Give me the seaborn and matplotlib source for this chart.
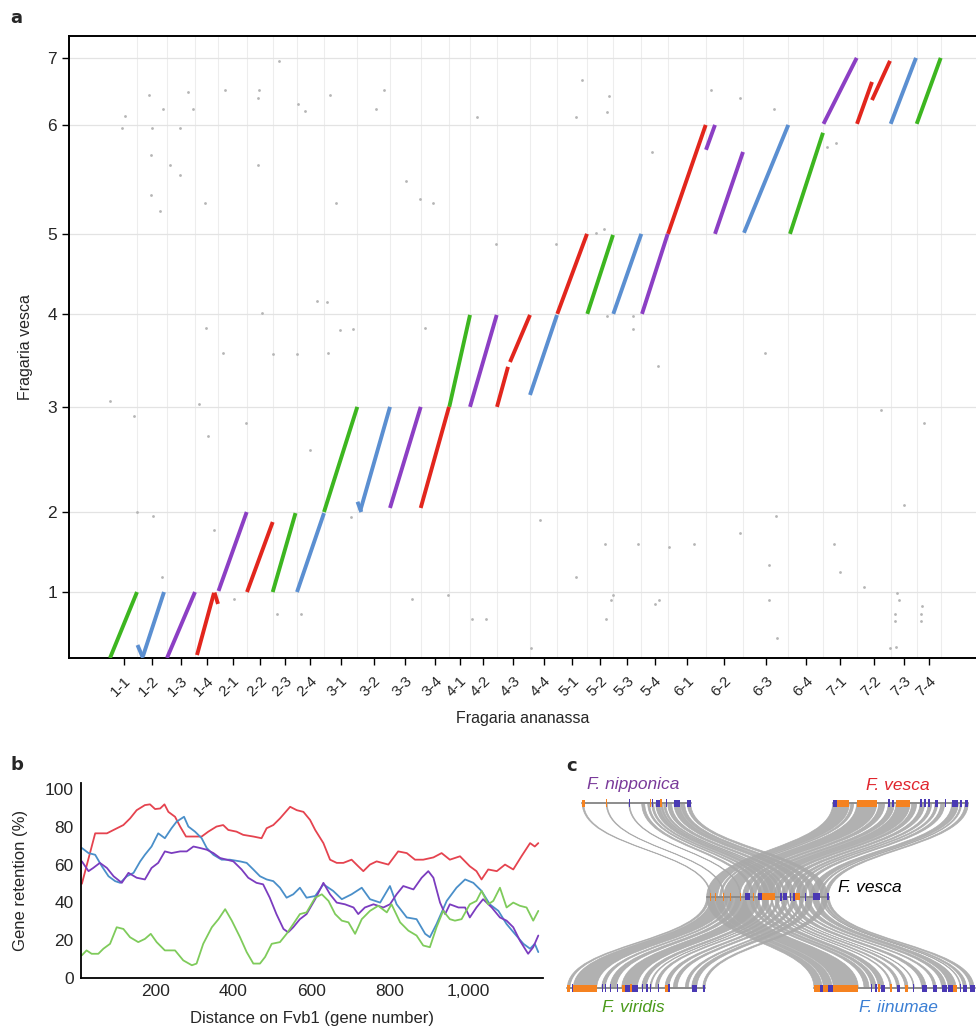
import numpy as np
import pandas as pd
import matplotlib
matplotlib.use("Agg")
import matplotlib.pyplot as plt
import seaborn as sns
from matplotlib.path import Path
from matplotlib.patches import PathPatch, Rectangle

sns.set_theme(style="white")
plt.rcParams["font.family"] = ["Liberation Sans", "DejaVu Sans"]

# ------------------------------------------------------------------ panel a data
vesca_chroms = ["1", "2", "3", "4", "5", "6", "7"]
vesca_len = [24.4, 29.6, 38.9, 34.4, 29.6, 40.3, 24.8]          # Mb

ananassa_chroms = ["1-1", "1-2", "1-3", "1-4", "2-1", "2-2", "2-3", "2-4",
                   "3-1", "3-2", "3-3", "3-4", "4-1", "4-2", "4-3", "4-4",
                   "5-1", "5-2", "5-3", "5-4", "6-1", "6-2", "6-3", "6-4",
                   "7-1", "7-2", "7-3", "7-4"]
ananassa_len = [27.3, 29.4, 28.3, 23.3, 28.4, 26.0, 24.0, 27.3,
                33.3, 32.7, 30.7, 28.6, 20.7, 26.7, 33.3, 27.3,
                30.0, 26.0, 28.0, 26.4, 38.0, 37.6, 45.0, 35.0,
                33.4, 34.0, 26.0, 24.0]
ananassa_progenitor = ["F. viridis", "F. iinumae", "F. nipponica", "F. vesca",
                       "F. nipponica", "F. vesca", "F. viridis", "F. iinumae",
                       "F. viridis", "F. iinumae", "F. nipponica", "F. vesca",
                       "F. viridis", "F. nipponica", "F. vesca", "F. iinumae",
                       "F. vesca", "F. viridis", "F. iinumae", "F. nipponica",
                       "F. vesca", "F. nipponica", "F. iinumae", "F. viridis",
                       "F. nipponica", "F. vesca", "F. iinumae", "F. viridis"]

# syntenic blocks: ananassa chrom, start/end on ananassa chrom (Mb), start/end on vesca chrom (Mb)
block_chrom = ["1-1", "1-2", "1-2", "1-3", "1-4", "1-4", "2-1", "2-2", "2-3", "2-4",
               "3-1", "3-2", "3-2", "3-3", "3-4", "4-1", "4-2", "4-3", "4-3", "4-4",
               "5-1", "5-2", "5-3", "5-4", "6-1", "6-2", "6-2", "6-3", "6-4",
               "7-1", "7-2", "7-2", "7-3", "7-4"]
block_a_start = [0.0, 0.2, 5.7, 0.3, 2.0, 19.5, 0.2, 0.3, 0.0, 0.3,
                 0.0, 0.2, 3.0, 0.0, 0.0, 0.0, 0.0, 0.3, 13.3, 0.0,
                 0.0, 0.0, 0.0, 0.7, 0.3, 9.3, 0.3, 0.7, 1.7,
                 0.2, 0.3, 15.3, 0.0, 0.0]
block_a_end = [27.0, 5.7, 26.7, 28.3, 19.0, 23.0, 28.4, 26.0, 22.8, 27.3,
               33.3, 4.0, 32.7, 30.7, 28.3, 20.7, 26.7, 11.3, 33.3, 27.0,
               29.7, 25.7, 28.0, 26.4, 38.0, 37.3, 9.3, 45.0, 34.7,
               33.4, 15.3, 33.3, 25.3, 24.0]
block_v_start = [0.0, 4.8, 0.7, 0.0, 1.1, 24.2, 0.4, 0.0, 0.0, 0.0,
                 0.0, 3.8, 0.5, 1.5, 1.5, 0.0, 0.0, 0.0, 16.6, 4.4,
                 0.0, 0.0, 0.0, 0.0, 0.0, 0.0, 31.1, 0.4, 0.0,
                 0.4, 0.4, 9.2, 0.4, 0.4]
block_v_end = [24.4, 0.0, 24.4, 24.4, 24.1, 20.0, 29.6, 25.9, 29.2, 29.2,
               38.9, 0.0, 38.9, 38.9, 38.9, 34.0, 34.0, 14.8, 34.0, 34.0,
               29.6, 29.2, 29.6, 29.6, 40.3, 30.3, 40.3, 40.3, 37.4,
               24.8, 15.9, 23.7, 24.8, 24.8]

# non-syntenic background hits (cumulative Mb)
bg_x = [12.3, 15.0, 39.0, 41.7, 41.0, 41.0, 53.0, 50.3, 60.0, 70.3, 70.0, 77.7, 83.0,
        94.7, 95.7, 114.7, 149.0, 148.3, 147.7, 152.3, 168.7, 188.0, 195.3, 206.7,
        216.7, 219.7, 226.0, 229.7, 242.7, 266.0, 274.0, 296.3, 310.0, 322.7, 314.7,
        366.7, 386.0, 0.0, 24.0, 26.7, 43.3, 51.7, 89.0, 97.7, 103.7, 113.3, 124.3,
        136.3, 162.7, 167.3, 186.7, 191.0, 200.0, 218.3, 240.7, 302.0, 338.3, 362.0,
        376.0, 497.3, 523.0, 523.0, 548.3, 655.0, 771.0, 813.7, 794.3, 666.3, 629.7,
        430.0, 495.0, 528.3, 559.3, 583.7, 724.3, 659.3, 729.7, 465.7, 753.7, 503.3,
        501.0, 549.3, 545.3, 659.3, 786.7, 789.0, 496.3, 785.3, 785.3, 811.3, 811.3,
        812.0, 666.7, 420.7, 780.0, 786.0, 471.7, 465.7, 499.3, 497.0, 541.7, 601.0,
        629.7, 663.7, 716.7, 726.0, 446.3, 486.3, 494.0]
bg_y = [196.1, 200.4, 208.4, 196.1, 186.2, 171.4, 203.2, 165.3, 182.5, 196.1, 178.5,
        209.3, 203.2, 168.4, 122.1, 210.0, 210.0, 207.1, 182.5, 127.5, 220.8, 205.1,
        202.5, 132.2, 131.6, 208.4, 168.4, 121.5, 121.7, 203.1, 210.0, 176.4, 169.9,
        168.4, 122.1, 200.1, 153.1, 95.2, 89.7, 53.9, 52.7, 30.1, 93.9, 82.1, 47.2,
        112.7, 21.7, 87.1, 112.5, 16.2, 112.5, 16.2, 76.9, 112.7, 52.3, 21.7, 23.2,
        14.3, 14.3, 126.7, 126.7, 121.7, 108.2, 112.7, 91.6, 87.1, 56.6, 52.4, 46.4,
        51.2, 42.3, 42.3, 41.1, 42.3, 42.3, 34.3, 31.9, 30.1, 26.3, 23.2, 21.6, 21.6,
        20.0, 21.6, 23.9, 21.6, 14.3, 16.2, 13.6, 16.2, 13.6, 19.1, 7.5, 3.6, 3.8,
        4.2, 213.9, 200.1, 207.8, 202.0, 187.1, 210.0, 207.1, 203.2, 189.2, 190.7,
        153.1, 157.3, 158.6]

# ------------------------------------------------------------------ panel b data
red_gene = [13, 47, 77, 94, 119, 136, 153, 174, 187, 200, 213, 224, 234, 251, 264, 279, 298,
            319, 336, 357, 374, 387, 408, 425, 451, 472, 485, 502, 519, 545, 562, 579, 596,
            609, 630, 647, 664, 681, 702, 719, 732, 749, 766, 796, 821, 843, 864, 885, 911,
            932, 953, 979, 1004, 1021, 1034, 1051, 1073, 1094, 1115, 1136, 1158, 1170, 1179]
red_val = [49.8, 76.6, 76.6, 78.4, 81.0, 84.5, 88.9, 91.6, 92.0, 89.5, 89.8, 92.0, 88.0,
           85.4, 80.2, 74.9, 74.9, 74.9, 77.5, 80.2, 81.0, 78.4, 77.5, 75.8, 74.9, 74.0,
           79.3, 81.0, 84.5, 90.7, 88.9, 88.0, 83.7, 78.4, 71.4, 62.6, 60.9, 60.9, 62.6,
           59.1, 56.5, 60.0, 61.7, 60.0, 67.0, 66.1, 62.6, 62.6, 63.8, 66.1, 62.6, 64.4,
           59.1, 56.5, 52.1, 57.4, 56.5, 60.0, 57.4, 64.4, 71.4, 69.6, 71.4]
blue_gene = [13, 30, 47, 64, 81, 98, 111, 128, 145, 162, 174, 191, 208, 225, 242, 255, 274,
             285, 302, 319, 332, 349, 370, 391, 417, 434, 451, 468, 485, 502, 519, 536, 553,
             570, 587, 609, 630, 655, 677, 702, 728, 749, 775, 800, 817, 843, 868, 890, 902,
             919, 945, 970, 992, 1013, 1034, 1055, 1077, 1098, 1119, 1141, 1158, 1170, 1179]
blue_val = [68.8, 66.1, 65.2, 59.1, 53.8, 51.2, 50.3, 53.8, 55.6, 61.7, 65.2, 69.6, 76.6,
            74.0, 79.3, 82.8, 85.4, 80.2, 77.5, 74.0, 68.8, 65.2, 62.6, 62.6, 61.7, 60.9,
            57.4, 53.8, 52.1, 51.2, 47.7, 42.4, 44.2, 47.7, 42.4, 43.3, 49.5, 46.0, 41.6,
            44.2, 47.7, 41.6, 39.8, 48.6, 38.9, 31.9, 31.0, 23.2, 21.4, 28.4, 40.7, 47.7,
            52.1, 50.3, 46.0, 38.9, 35.4, 28.4, 23.2, 17.9, 15.3, 17.9, 13.5]
purple_gene = [13, 30, 42, 59, 77, 94, 115, 132, 153, 174, 191, 208, 225, 242, 264, 281,
               298, 315, 332, 349, 366, 383, 400, 421, 438, 459, 476, 493, 510, 528, 540,
               553, 570, 587, 609, 630, 647, 664, 685, 707, 719, 736, 758, 783, 800, 817,
               834, 860, 881, 898, 911, 928, 941, 953, 975, 992, 1004, 1021, 1038, 1060,
               1081, 1098, 1115, 1132, 1153, 1166, 1179]
purple_val = [61.7, 56.5, 58.2, 60.9, 58.2, 53.8, 50.3, 55.6, 53.0, 52.1, 58.2, 60.9, 67.0,
              66.1, 67.0, 67.0, 69.6, 68.8, 67.9, 66.1, 63.5, 62.6, 61.7, 57.4, 53.0, 50.3,
              49.5, 42.4, 33.7, 25.8, 24.0, 26.7, 31.0, 33.7, 41.6, 50.3, 44.2, 39.8, 38.9,
              37.2, 33.7, 37.2, 38.9, 37.2, 38.9, 44.2, 48.6, 46.8, 53.0, 56.5, 53.0, 39.8,
              33.7, 38.9, 37.2, 37.2, 31.9, 37.2, 41.6, 37.2, 31.9, 30.2, 26.7, 19.6, 12.6,
              16.1, 22.3]
green_gene = [13, 25, 38, 55, 68, 85, 102, 119, 136, 157, 174, 189, 204, 225, 251, 272, 294,
              306, 323, 345, 362, 379, 396, 417, 434, 451, 468, 481, 498, 519, 536, 553, 570,
              587, 609, 626, 643, 660, 677, 694, 711, 728, 749, 770, 792, 804, 826, 847, 868,
              885, 902, 919, 936, 953, 966, 983, 1004, 1021, 1034, 1051, 1064, 1081, 1098,
              1115, 1132, 1149, 1166, 1179]
green_val = [11.8, 14.4, 12.6, 12.6, 15.3, 17.9, 26.7, 25.8, 21.4, 18.8, 20.5, 23.2, 18.8,
             14.4, 14.4, 9.1, 6.5, 7.4, 17.9, 26.7, 31.0, 36.3, 30.2, 21.4, 13.5, 7.4, 7.4,
             10.9, 17.9, 18.8, 23.2, 28.4, 33.7, 34.6, 42.4, 44.2, 40.7, 33.7, 30.2, 29.3,
             23.2, 31.0, 35.4, 38.1, 34.6, 38.9, 29.3, 24.9, 22.3, 17.0, 16.1, 26.7, 35.4,
             31.0, 30.2, 31.0, 38.9, 40.7, 46.0, 38.9, 40.7, 47.7, 37.2, 39.8, 38.1, 37.2,
             30.2, 35.4]
b_xticks = [200, 400, 600, 800, 1000]
b_xticklabels = ["200", "400", "600", "800", "1,000"]
b_yticks = [0, 20, 40, 60, 80, 100]

# ------------------------------------------------------------------ panel c data
track_names = ["nipponica", "vesca_top", "vesca_mid", "viridis", "iinumae"]
track_x0 = [581.7, 832.7, 706.7, 567.3, 814.0]
track_y = [803.0, 803.0, 896.7, 988.3, 988.3]
track_len = [109.0, 135.6, 122.6, 137.7, 161.0]
orange_blocks = {
    "nipponica": [(0, 3.3), (24.5, 25.5), (68, 69), (78.3, 80.3)],
    "vesca_top": [(4, 16.6), (24, 44), (63.3, 77.3)],
    "vesca_mid": [(3.3, 4.3), (8.3, 9.3), (16.6, 17.6), (23.3, 24.3), (33.3, 34.3),
                  (46, 47.6), (55, 68.3), (88.3, 93.3)],
    "viridis": [(0, 2.7), (6, 29.4), (54.4, 57.7), (63, 65), (97.7, 101)],
    "iinumae": [(0, 6), (9.3, 14.3), (19.3, 44.3), (64.3, 66), (76, 77.6), (91, 94.3),
                (139.3, 142.6)],
}
blue_blocks = {
    "nipponica": [(47, 48), (70, 71), (74, 78.3), (84.5, 85.5), (92.3, 98.3), (105.6, 109)],
    "vesca_top": [(0, 4), (55.6, 57.3), (59, 61.6), (87.3, 89), (91.3, 93.3), (95.6, 97.3),
                  (102.3, 105.6), (112.3, 113), (119, 125.6), (127.3, 129.6), (132.3, 135.6)],
    "vesca_mid": [(38.3, 43.3), (51.6, 55), (73.3, 75), (76.6, 80), (83.3, 84.3),
                  (86.6, 88.3), (98.3, 99.3), (106.6, 113.3), (120, 122.6)],
    "viridis": [(4.4, 5.2), (34.4, 35.2), (37.7, 38.5), (42.7, 43.5), (49.4, 50.2),
                (57.7, 63), (65, 71), (74.4, 76), (78.4, 80.4), (82.7, 83.5), (91, 92),
                (101, 102.7), (124.4, 129.4), (135.4, 137.7)],
    "iinumae": [(6, 9.3), (14.3, 19.3), (57.3, 58.3), (61, 62.6), (66.6, 71), (82.6, 86),
                (99.3, 100.3), (107.6, 112.6), (119.3, 122.6), (127.6, 132.6), (134.3, 139.3),
                (146, 147), (149.3, 153.3), (156, 161)],
}
links = {
    "nipponica": [(0.5, 2, 3.3, 4.3), (24.5, 25.5, 16.6, 17.6), (47, 48, 33.3, 34.3),
                  (60, 63, 44, 47), (66, 68, 52, 55), (70, 72, 58, 62), (74, 78.3, 64, 70),
                  (79, 81, 72, 75), (82, 84, 77, 79), (86, 90, 83, 88), (92.3, 98.3, 92, 100),
                  (99, 103, 103, 109), (105.6, 109, 114, 121)],
    "vesca_top": [(0, 16.6, 0, 11), (18, 21, 13, 15), (24, 44, 17, 33), (46, 52, 36, 41),
                  (55.6, 61.6, 43, 49), (63.3, 77.3, 51, 65), (79, 84, 67, 72),
                  (87.3, 92, 75, 80), (95.6, 99, 83, 87), (102.3, 105, 89, 92),
                  (108, 112, 95, 99), (119, 125.6, 104, 111), (127.3, 129, 113, 115),
                  (132.3, 135.6, 118, 121.6)],
    "viridis": [(0, 2.7, 0, 2.5), (6, 29.4, 4, 21), (34.4, 38, 23, 26), (42.7, 49, 29, 34),
                (54.4, 70, 37, 53), (74.4, 79, 57, 62), (82.7, 84, 65, 66.5), (88, 91, 70, 73),
                (97.7, 101.7, 77, 81), (106, 110, 85, 89), (118, 121, 94, 97),
                (124.4, 129.4, 100, 106), (135.4, 137.7, 115, 121)],
    "iinumae": [(0, 8, 0, 7), (9.3, 18, 9, 16), (19.3, 44.3, 18, 39), (50, 55, 43, 46),
                (57.3, 62, 48, 52), (64.3, 70, 55, 61), (76, 77.6, 64, 65.5), (82.6, 85.5, 68, 71),
                (91, 94, 74, 77), (99.3, 100.3, 80, 81), (107.6, 112, 84, 89),
                (119.3, 122, 92, 95), (127.6, 132, 98, 103), (134.3, 142, 106, 112),
                (146, 147, 115, 116), (149.3, 152.5, 117, 119), (156, 160, 120, 122.6)],
}
species_labels = ["F. nipponica", "F. vesca", "F. vesca", "F. viridis", "F. iinumae"]

# ------------------------------------------------------------------ colours
dot_palette = {"F. vesca": "#e2261d", "F. nipponica": "#8c3fc4",
               "F. viridis": "#3db620", "F. iinumae": "#5b8fd1"}
line_palette = {"F. vesca": "#e5434f", "F. iinumae": "#4a8fc9",
                "F. nipponica": "#7b3cbf", "F. viridis": "#7fcb5b"}
label_colors = ["#7a3a9a", "#e0242c", "black", "#4a9a1a", "#3b7fd4"]

# ------------------------------------------------------------------ figure
W, H = 976, 1028
fig = plt.figure(figsize=(W / 100, H / 100), dpi=100)

# ---------------- panel a
axa = fig.add_axes([69 / W, 1 - 658 / H, 907 / W, 622 / H])
a_off = np.concatenate([[0], np.cumsum(ananassa_len)[:-1]])
v_off = np.concatenate([[0], np.cumsum(vesca_len)[:-1]])
a_index = {c: i for i, c in enumerate(ananassa_chroms)}

rows = []
for k, c in enumerate(block_chrom):
    i = a_index[c]
    vi = int(c.split("-")[0]) - 1
    for xs, ys in ((block_a_start[k], block_v_start[k]), (block_a_end[k], block_v_end[k])):
        rows.append({"seg": k, "x": a_off[i] + xs, "y": v_off[vi] + ys,
                     "prog": ananassa_progenitor[i]})
seg_df = pd.DataFrame(rows)

bg_df = pd.DataFrame({"x": bg_x, "y": bg_y})
sns.scatterplot(data=bg_df, x="x", y="y", ax=axa, color="#b5b5b5", s=4,
                linewidth=0, zorder=2)
sns.lineplot(data=seg_df, x="x", y="y", hue="prog", units="seg", estimator=None,
             sort=False, palette=dot_palette, ax=axa, lw=2.8, legend=False,
             zorder=3, solid_capstyle="butt")

a_ends = np.cumsum(ananassa_len)
a_mid = a_off + np.array(ananassa_len) / 2
v_ends = np.cumsum(vesca_len)
axa.set_xlim(-41, 866)
axa.set_ylim(0, v_ends[-1] + 8.1)
axa.set_xticks(a_mid)
axa.set_xticklabels(ananassa_chroms, rotation=45, ha="right", rotation_mode="anchor",
                    fontsize=11)
axa.set_xticks(a_ends, minor=True)
axa.set_yticks(v_ends)
axa.set_yticklabels(vesca_chroms, fontsize=12.5)
axa.grid(False)
axa.grid(True, axis="y", which="major", color="#e3e3e3", lw=0.9)
axa.grid(True, axis="x", which="minor", color="#ededed", lw=0.8)
axa.tick_params(axis="both", which="major", length=5, width=1, color="black",
                direction="out", bottom=True, left=True)
axa.tick_params(axis="x", which="major", pad=6)
axa.tick_params(axis="x", which="minor", length=0)
for s in ["left", "bottom", "top"]:
    axa.spines[s].set_visible(True)
    axa.spines[s].set_color("black")
    axa.spines[s].set_linewidth(1.4)
axa.spines["right"].set_visible(False)
axa.set_xlabel("Fragaria ananassa", fontsize=11.5)
axa.set_ylabel("Fragaria vesca", fontsize=11.5)
axa.xaxis.set_label_coords(0.5, -0.085)
axa.yaxis.set_label_coords(-0.04, 0.5)

# ---------------- panel b
axb = fig.add_axes([80.7 / W, 1 - 977.5 / H, 462.3 / W, 194.8 / H])
b_df = pd.concat([
    pd.DataFrame({"gene": red_gene, "ret": red_val, "sp": "F. vesca"}),
    pd.DataFrame({"gene": blue_gene, "ret": blue_val, "sp": "F. iinumae"}),
    pd.DataFrame({"gene": purple_gene, "ret": purple_val, "sp": "F. nipponica"}),
    pd.DataFrame({"gene": green_gene, "ret": green_val, "sp": "F. viridis"}),
], ignore_index=True)
sns.lineplot(data=b_df, x="gene", y="ret", hue="sp", palette=line_palette,
             estimator=None, ax=axb, lw=1.3, legend=False)
axb.set_xlim(10, 1191)
axb.set_ylim(0, 103.5)
axb.set_xticks(b_xticks)
axb.set_xticklabels(b_xticklabels, fontsize=12.5)
axb.set_yticks(b_yticks)
axb.set_yticklabels([str(v) for v in b_yticks], fontsize=12.5)
axb.tick_params(length=0, pad=5)
for s in ["top", "right"]:
    axb.spines[s].set_visible(False)
for s in ["left", "bottom"]:
    axb.spines[s].set_color("black")
    axb.spines[s].set_linewidth(1.3)
axb.set_xlabel("Distance on Fvb1 (gene number)", fontsize=12)
axb.set_ylabel("Gene retention (%)", fontsize=12)
axb.xaxis.set_label_coords(0.5, -0.17)
axb.yaxis.set_label_coords(-0.115, 0.5)

# ---------------- panel c
axc = fig.add_axes([560 / W, 0, 416 / W, 258 / H])
axc.set_xlim(560, 976)
axc.set_ylim(1028, 770)
axc.axis("off")
tinfo = {n: (x0, y, L) for n, x0, y, L in zip(track_names, track_x0, track_y, track_len)}
mx0, my, _ = tinfo["vesca_mid"]
ribbon_col = "#a9a9a9"
for name, lk in links.items():
    ox0, oy, _ = tinfo[name]
    yc = (oy + my) / 2
    for (o0, o1, m0, m1) in lk:
        verts = [(ox0 + o0, oy), (ox0 + o0, yc), (mx0 + m0, yc), (mx0 + m0, my),
                 (mx0 + m1, my), (mx0 + m1, yc), (ox0 + o1, yc), (ox0 + o1, oy),
                 (ox0 + o0, oy)]
        codes = [Path.MOVETO, Path.CURVE4, Path.CURVE4, Path.CURVE4, Path.LINETO,
                 Path.CURVE4, Path.CURVE4, Path.CURVE4, Path.CLOSEPOLY]
        axc.add_patch(PathPatch(Path(verts, codes), facecolor=ribbon_col,
                                edgecolor=ribbon_col, lw=0.5, alpha=0.9, zorder=1))
for name in track_names:
    x0, y, L = tinfo[name]
    axc.plot([x0, x0 + L], [y, y], color="#8c8c8c", lw=1.4, zorder=3)
    for (s, e) in orange_blocks[name]:
        hgt = 7 if e - s > 2 else 8
        axc.add_patch(Rectangle((x0 + s, y - hgt / 2), max(e - s, 1.0), hgt,
                                facecolor="#f58220", edgecolor="none", zorder=4))
    for (s, e) in blue_blocks[name]:
        hgt = 7 if e - s > 2 else 8
        axc.add_patch(Rectangle((x0 + s, y - hgt / 2), max(e - s, 1.0), hgt,
                                facecolor="#4a39b3", edgecolor="none", zorder=5))
label_pos = [(633, 785, "center"), (898, 785, "center"), (838, 888, "left"),
             (633, 1007, "center"), (898, 1007, "center")]
for (lx, ly, ha), txt, col in zip(label_pos, species_labels, label_colors):
    axc.text(lx, ly, txt, color=col, fontsize=12.5, style="italic", ha=ha, va="center",
             zorder=6)

# ---------------- panel letters
for lx, ly, t in [(10, 18, "a"), (10, 765, "b"), (566, 766, "c")]:
    fig.text(lx / W, 1 - ly / H, t, fontsize=13, fontweight="bold", ha="left",
             va="center", family=["DejaVu Sans"])

fig.savefig("out.png", dpi=100)
